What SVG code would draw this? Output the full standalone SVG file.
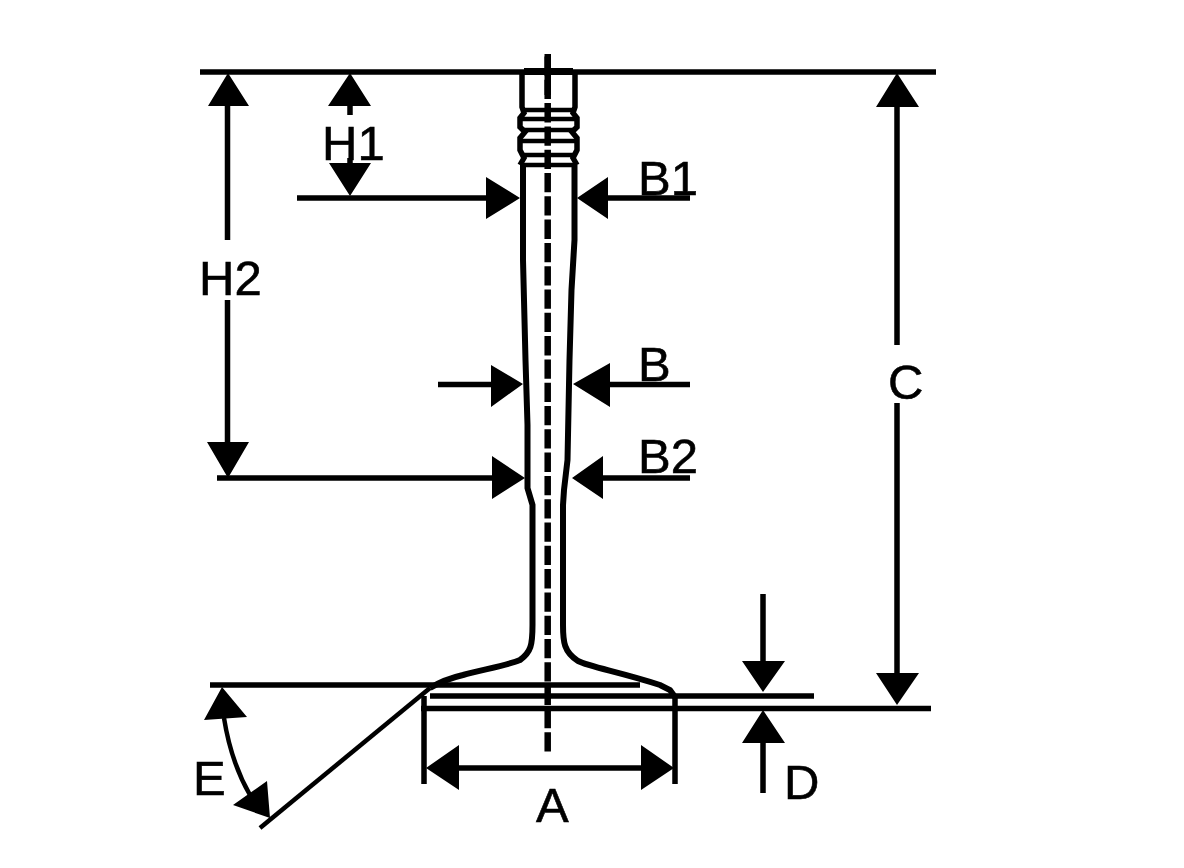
<svg xmlns="http://www.w3.org/2000/svg" width="1184" height="868" viewBox="0 0 1184 868">
<style>
.l{fill:none;stroke:#000;stroke-width:5.5}
.s{fill:none;stroke:#000;stroke-width:6}
.t{fill:none;stroke:#000;stroke-width:4.5}
.a{fill:#000;stroke:none}
text{font-family:"Liberation Sans",Arial,sans-serif;font-size:49px;fill:#000;stroke:#000;stroke-width:.6}
</style>
<rect width="1184" height="868" fill="#fff"/>
<g id="valve">
<path class="a" d="M524 68H573V75H524Z"/>
<path class="l" d="M522 72V107L524 113L520 118V127L525 132L520 138V150L524 158L520 165M575 72V107L573 113L577 118V127L572 132L577 138V150L573 158L577 165"/>
<path class="t" d="M525 110H572M522 119H575M522 130H575M522 141H575M524 155H573M520 165H577"/>
<path class="s" d="M523 165V260L525.500 360L527.500 425V488L532.500 505V625C532.500 645 531 652 520 660C505 666 480 670 463 675C450 678 440 682 430 688"/>
<path class="s" d="M574.500 165V240L571.500 290L569.500 360L567.500 460L564 490L563 505V625C563 642 564 652 578 661C590 667 620 672 660 685L670 690L675 697"/>
<path class="l" d="M424 696V784M675 696V784"/>
</g>
<g id="connectors">
<path class="l" d="M200 72H936M210 685H640M430 696H814M421 708.500H931"/>
<path class="a" d="M544.500 54H551V95H544.500Z"/>
<path d="M547.700 56.500V752" fill="none" stroke="#000" stroke-width="6.500" stroke-dasharray="19.300 4"/>
<path class="l" d="M227.500 105V240M227.500 300V445M350 105V115M350 158V165M297 198H490M438 384.500H495M605 384.500H690M605 198H690M217 478H495M600 478H690M897 105V345M897 403V675M763 594V665M763 740V793M455 768H645"/>
<path class="t" d="M224 718Q231 762 250 795"/>
<path class="t" d="M430 688L260 828"/>
<path class="a" d="M228 73L249 106H208ZM228 478L207 442H249ZM350 73L371 106H328ZM350 196L329 163H371ZM520 198L486 177V219ZM577 198L608 177V219ZM523 384L491 365V407ZM573 384L610 363V407ZM525 478L492 456V499ZM572 478L603 456V499ZM897 73L919 107H876ZM897 705L876 673H919ZM763 692L742 661H785ZM763 710L742 743H785ZM426 768L459 745V790ZM674 768L641 745V790ZM222 687L204 720L247 717ZM270 818L233 805L267 781Z"/>
</g>
<g id="labels">
<text x="322" y="160">H1</text>
<text x="199" y="295">H2</text>
<text x="638" y="195">B1</text>
<text x="638" y="381">B</text>
<text x="638" y="473">B2</text>
<text x="888" y="399">C</text>
<text x="784" y="799">D</text>
<text x="536" y="822">A</text>
<text x="193" y="795">E</text>
</g>
</svg>
